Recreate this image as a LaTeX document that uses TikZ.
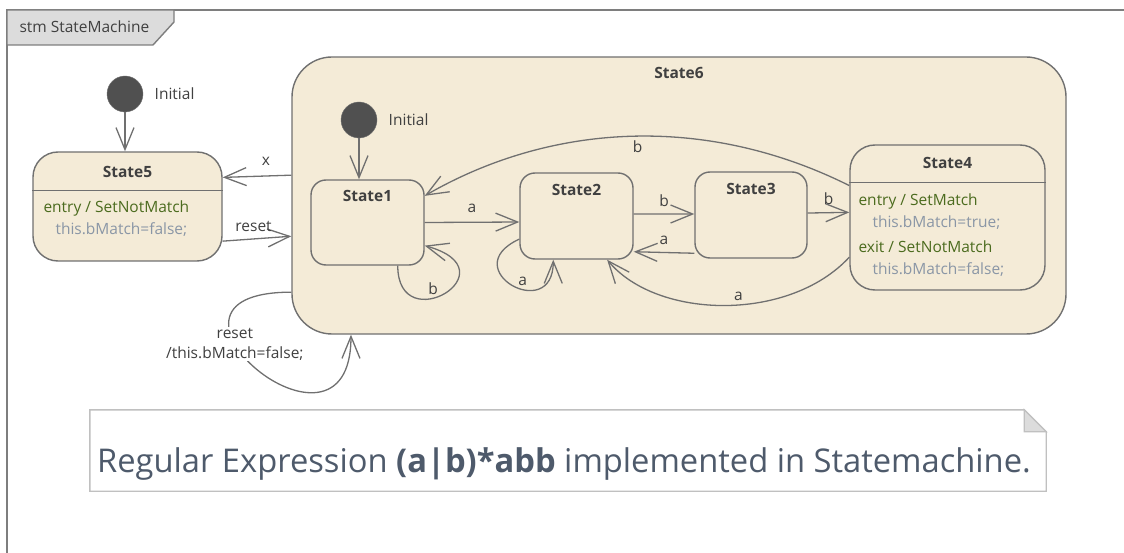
\documentclass[tikz,border=0pt]{standalone}
\usepackage{fontspec}
\setmainfont{Open Sans}
\usetikzlibrary{arrows.meta,positioning}
\definecolor{statefill}{HTML}{F4EBD7}
\definecolor{linegray}{HTML}{707070}
\definecolor{textgray}{HTML}{404040}
\definecolor{initgray}{HTML}{505050}
\definecolor{entrygreen}{HTML}{4B6B1E}
\definecolor{codegray}{HTML}{8A96A6}
\definecolor{notegray}{HTML}{C0C0C0}
\definecolor{notetext}{HTML}{4E5A6B}
\definecolor{tabfill}{HTML}{DCDCDC}
\tikzset{
	every node/.style={
		font=\fontsize{15.5}{20}\selectfont,
		text=textgray
	},
	statebox/.style={
		shape=rectangle,
		draw=linegray,
		line width=1.4pt,
		fill=statefill,
		rounded corners=15pt,
		inner sep=0pt
	},
	title/.style={
		font=\fontsize{15.5}{20}\selectfont\bfseries
	},
	entrytext/.style={
		text=entrygreen,
		anchor=west
	},
	codetext/.style={
		text=codegray,
		anchor=west
	},
	initial node/.style={
		circle,
		fill=initgray,
		draw=linegray,
		minimum size=36pt,
		inner sep=0pt
	},
	myarrow/.style={
		draw=linegray,
		line width=1.3pt,
		-{Straight Barb[length=22pt,width=18pt,line width=1.3pt]}
	}
}

\begin{document}
\begin{tikzpicture}[x=1pt,y=-1pt]
	\useasboundingbox (0,0) rectangle (1124,553);
	
	% frame
	\draw[draw=linegray!90, line width=1.6pt] (1124,10) -- (7,10) -- (7,553);
	\draw[draw=linegray!90, line width=1.4pt, fill=tabfill] (7,10) -- (174,10) -- (174,22) -- (153,45) -- (7,45) -- cycle;
	\node[anchor=west] (frametitle) at (16,27) {stm StateMachine};
	
	% outer states
	\node[initial node] (i5) at (125,94) {};
	\node[right=8pt of i5] {Initial};
	\node[statebox, rounded corners=25pt, minimum width=189pt, minimum height=109pt,
		label={[title, anchor=north, yshift=-11pt]north:State5}] (s5) at (127.5,206.5) {};
	\draw[draw=linegray, line width=1.4pt] ([yshift=-39pt]s5.north west) -- ([yshift=-39pt]s5.north east);
	\node[entrytext] (s5entry) at (40,208) {entry / SetNotMatch};
	\node[codetext] (s5code) at (52,230) {this.bMatch=false;};
	
	\node[statebox, rounded corners=40pt, minimum width=774pt, minimum height=277pt,
		label={[title, anchor=north, yshift=-7pt]north:State6}] (s6) at (679,195.5) {};
	
	% inner states
	\node[initial node] (i1) at (359,120) {};
	\node[right=8pt of i1] {Initial};
	\node[statebox, minimum width=113pt, minimum height=85pt,
		label={[title, anchor=north, yshift=-7pt]north:State1}] (s1) at (367.5,222.5) {};
	\node[statebox, minimum width=113pt, minimum height=86pt,
		label={[title, anchor=north, yshift=-8pt]north:State2}] (s2) at (576.5,216) {};
	\node[statebox, minimum width=112pt, minimum height=86pt,
		label={[title, anchor=north, yshift=-8pt]north:State3}] (s3) at (751,215) {};
	\node[statebox, rounded corners=25pt, minimum width=195pt, minimum height=145pt,
		label={[title, anchor=north, yshift=-9pt]north:State4}] (s4) at (947.5,217.5) {};
	\draw[draw=linegray, line width=1.4pt] ([yshift=-38pt]s4.north west) -- ([yshift=-38pt]s4.north east);
	\node[entrytext] (s4entry) at (855,201) {entry / SetMatch};
	\node[codetext] (s4code) at (869,223) {this.bMatch=true;};
	\node[entrytext] (s4exit) at (855,247) {exit / SetNotMatch};
	\node[codetext] (s4code2) at (869,270) {this.bMatch=false;};
	
	% transitions
	\draw[myarrow] (i5) -- (i5 |- s5.north);
	\draw[myarrow] (s6.177.26) -- (s5.17.3) node[pos=0.37, above=7pt] {x};
	\draw[myarrow] (s5.-20.6) -- (s6.186.85) node[pos=0.45, above=3pt] {reset};
	\draw[myarrow] (s6.-166) .. controls +(-170,0) and +(0,150) .. (s6.-157.7)
		node[pos=0.37, fill=white, align=center, inner sep=1pt] {reset\\/this.bMatch=false;};
	
	\draw[myarrow] (i1) -- (i1 |- s1.north);
	\draw[myarrow] (s1.0) -- (s2.186.6) node[pos=0.5, above=6pt] {a};
	\draw[myarrow] (s1.-55) .. controls +(0,75) and +(90,25) .. (s1.-22) node[pos=0.4, above] {b};
	\draw[myarrow] (s2.-158) .. controls +(-65,30) and +(0,65) .. (s2.-118) node[pos=0.6, above] {a};
	\draw[myarrow] (s2.2) -- (s3.179) node[pos=0.5, above=3pt] {b};
	\draw[myarrow] (s3.-146.55) -- (s2.-32.5) node[pos=0.5, above=4pt] {a};
	\draw[myarrow] (s3.2.05) -- (s4.177.4) node[pos=0.5, above=4pt] {b};
	\draw[myarrow] (s4.-158) .. controls +(-60,65) and +(50,60) .. (s2.-55) node[pos=0.45, above] {a};
	\draw[myarrow] (s4.162.6) .. controls +(-140,-70) and +(130,-75) .. (s1.25) node[pos=0.49, below=1pt] {b};
	
	% note
	\node[minimum width=956pt, minimum height=81pt, inner sep=0pt] (note) at (568,450.5) {};
	\draw[draw=notegray, line width=1.4pt, fill=white] (note.north west) -- ([xshift=-22pt]note.north east)
		-- ([yshift=-22pt]note.north east) -- (note.south east) -- (note.south west) -- cycle;
	\draw[draw=notegray, line width=1.2pt, fill=tabfill] ([xshift=-22pt]note.north east)
		-- ([xshift=-22pt,yshift=-22pt]note.north east) -- ([yshift=-22pt]note.north east) -- cycle;
	\node[anchor=base, text=notetext, font=\fontsize{32.7}{38}\selectfont] (regex) at (564,472)
		{Regular Expression \textbf{(a|b)*abb} implemented in Statemachine.};
	
\end{tikzpicture}
\end{document}
